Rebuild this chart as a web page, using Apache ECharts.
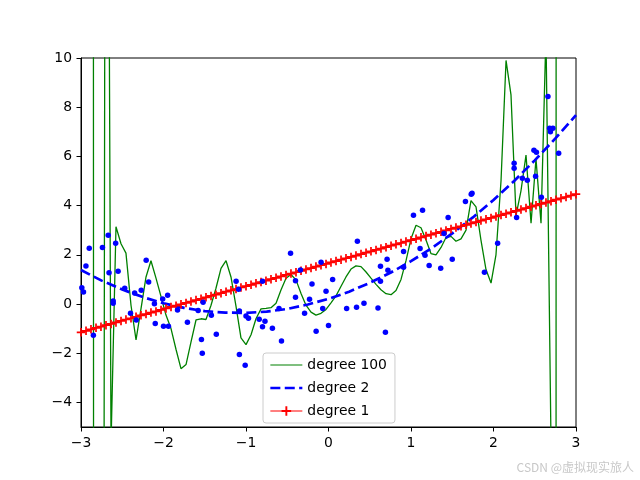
<!DOCTYPE html>
<html>
<head>
<meta charset="utf-8">
<script src="https://cdn.jsdelivr.net/npm/echarts@6/dist/echarts.min.js"></script>
<style>
  html, body { margin: 0; padding: 0; background: #fff; }
  #chart { width: 640px; height: 480px; }
</style>
</head>
<body>
<div id="chart"></div>
<script>
// sample points of the fitted curves (100 points from -3 to 3)
const xGrid = [
  -3, -2.939, -2.879, -2.818, -2.758, -2.697, -2.636, -2.576, -2.515, -2.455,
  -2.394, -2.333, -2.273, -2.212, -2.152, -2.091, -2.030, -1.970, -1.909, -1.848,
  -1.788, -1.727, -1.667, -1.606, -1.545, -1.485, -1.424, -1.364, -1.303, -1.242,
  -1.182, -1.121, -1.061, -1.000, -0.939, -0.879, -0.818, -0.758, -0.697, -0.636,
  -0.576, -0.515, -0.455, -0.394, -0.333, -0.273, -0.212, -0.152, -0.091, -0.030,
  0.030, 0.091, 0.152, 0.212, 0.273, 0.333, 0.394, 0.455, 0.515, 0.576,
  0.636, 0.697, 0.758, 0.818, 0.879, 0.939, 1.000, 1.061, 1.121, 1.182,
  1.242, 1.303, 1.364, 1.424, 1.485, 1.545, 1.606, 1.667, 1.727, 1.788,
  1.848, 1.909, 1.970, 2.030, 2.091, 2.152, 2.212, 2.273, 2.333, 2.394,
  2.455, 2.515, 2.576, 2.636, 2.697, 2.758, 2.818, 2.879, 2.939, 3
];

// degree 100 fit (edges shoot far out of view)
const deg100Y = [
  80, 200, 380, -380, -85, 43, -5.7, 3.14, 2.45, 2.07,
  -0.05, -1.46, -0.2, 1.1, 1.76, 1.05, 0.3, -0.45, -1.0, -1.85,
  -2.63, -2.46, -1.55, -0.65, -0.6, -0.63, -0.05, 0.64, 1.45, 1.76,
  1.1, -0.1, -1.38, -1.65, -1.25, -0.6, -0.2, -0.18, -0.15, 0.03,
  0.57, 1.05, 1.2, 0.98, 0.43, -0.05, -0.33, -0.45, -0.38, -0.22,
  0.05, 0.33, 0.72, 1.1, 1.42, 1.55, 1.52, 1.3, 1.05, 0.8,
  0.58, 0.42, 0.38, 0.55, 1.0, 1.75, 2.65, 3.2, 3.1, 2.6,
  2.05, 2.0, 2.3, 2.7, 2.75, 2.55, 2.65, 3.0, 4.2, 3.95,
  2.6, 1.4, 0.85, 2.0, 5.0, 9.9, 8.5, 3.6, 4.6, 6.05,
  3.28, 5.9, 3.28, 11, -5.6, -20, 2000, 3000, 1500, 500
];

// degree 1 fit
const deg1Y = [
  -1.15, -1.09, -1.03, -0.97, -0.92, -0.86, -0.81, -0.75, -0.69, -0.63,
  -0.58, -0.52, -0.46, -0.41, -0.35, -0.30, -0.24, -0.18, -0.12, -0.07,
  -0.01, 0.045, 0.10, 0.16, 0.21, 0.27, 0.33, 0.38, 0.44, 0.50,
  0.555, 0.61, 0.67, 0.725, 0.78, 0.84, 0.895, 0.95, 1.01, 1.065,
  1.12, 1.18, 1.235, 1.29, 1.35, 1.405, 1.46, 1.52, 1.575, 1.63,
  1.69, 1.745, 1.80, 1.86, 1.915, 1.97, 2.03, 2.085, 2.14, 2.20,
  2.255, 2.31, 2.37, 2.425, 2.48, 2.54, 2.595, 2.65, 2.71, 2.765,
  2.82, 2.88, 2.935, 2.99, 3.05, 3.105, 3.16, 3.22, 3.275, 3.33,
  3.39, 3.445, 3.50, 3.56, 3.615, 3.67, 3.73, 3.785, 3.84, 3.90,
  3.955, 4.01, 4.07, 4.125, 4.18, 4.24, 4.295, 4.35, 4.41, 4.465
];

// degree 2 fit (smooth, fewer samples)
const deg2X = [-3, -2.75, -2.5, -2.25, -2, -1.75, -1.5, -1.25, -1, -0.75, -0.5, -0.25, 0,
  0.25, 0.5, 0.75, 1, 1.25, 1.5, 1.75, 2, 2.25, 2.5, 2.75, 3];
const deg2Y = [1.38, 0.95, 0.59, 0.28, 0.03, -0.16, -0.29, -0.35, -0.36, -0.31, -0.20, -0.02, 0.21,
  0.50, 0.86, 1.27, 1.74, 2.27, 2.87, 3.52, 4.23, 5.00, 5.84, 6.73, 7.68];

// training samples
const pointsX = [
  -2.99, -2.97, -2.94, -2.90, -2.85, -2.74, -2.67, -2.66, -2.61, -2.61,
  -2.58, -2.55, -2.47, -2.40, -2.35, -2.33, -2.27, -2.21, -2.18, -2.11,
  -2.10, -2.01, -2.00, -1.95, -1.94, -1.83, -1.71, -1.58, -1.54, -1.53,
  -1.52, -1.42, -1.36, -1.12, -1.09, -1.08, -1.08, -1.01, -1.00, -0.97,
  -0.84, -0.80, -0.80, -0.77, -0.68, -0.60, -0.57, -0.46, -0.40, -0.40,
  -0.34, -0.29, -0.23, -0.20, -0.15, -0.09, -0.07, -0.03, 0.00, 0.05,
  0.22, 0.34, 0.35, 0.43, 0.60, 0.63, 0.63, 0.69, 0.71, 0.72,
  0.91, 0.91, 1.03, 1.11, 1.14, 1.17, 1.22, 1.36, 1.40, 1.45,
  1.50, 1.66, 1.73, 1.74, 1.89, 2.05, 2.25, 2.25, 2.28, 2.35,
  2.41, 2.49, 2.51, 2.52, 2.58, 2.66, 2.68, 2.69, 2.72, 2.79
];
const pointsY = [
  0.66, 0.49, 1.54, 2.27, -1.27, 2.30, 2.79, 1.27, 0.12, 0.03,
  2.47, 1.33, 0.64, -0.38, 0.45, -0.65, 0.56, 1.78, 0.89, 0.01,
  -0.79, 0.20, -0.90, 0.36, -0.90, -0.24, -0.74, -0.26, -1.44, -2.00,
  0.07, -0.46, -1.23, 0.92, 0.60, -0.28, -2.05, -2.49, -0.49, -0.58,
  -0.62, -0.92, 0.92, -0.70, -0.99, -0.18, -1.50, 2.06, 0.95, 0.27,
  1.38, -0.38, 0.19, 0.81, -1.11, 1.70, -0.18, 0.52, -0.87, 1.00,
  -0.18, -0.13, 2.55, 0.03, -0.16, 1.53, 0.92, -1.15, 1.82, 1.37,
  2.13, 1.49, 3.61, 2.26, 3.81, 1.98, 1.57, 1.45, 2.87, 3.52,
  1.82, 4.17, 4.46, 4.50, 1.29, 2.47, 5.72, 5.52, 3.52, 5.11,
  5.03, 6.25, 5.19, 6.17, 4.34, 8.44, 7.14, 7.00, 7.14, 6.13
];

const yTicks = [-4, -2, 0, 2, 4, 6, 8, 10];

const pair = (xs, ys) => xs.map((x, i) => [x, ys[i]]);
const minus = v => String(v).replace('-', '\u2212');

const chart = echarts.init(document.getElementById('chart'));

const font = 'DejaVu Sans';
const plusPath = 'path://M4,0h2v4h4v2h-4v4h-2v-4h-4v-2h4z';

const option = {
    animation: false,
    backgroundColor: '#fff',
    textStyle: { fontFamily: font },
    grid: {
        left: 81, right: 64, top: 58, bottom: 53,
        show: true, borderColor: '#000', borderWidth: 1,
        backgroundColor: 'transparent'
    },
    xAxis: {
        type: 'value',
        min: -3, max: 3, interval: 1,
        axisLine: { onZero: false, lineStyle: { color: '#000', width: 1 } },
        axisTick: { inside: false, length: 4.5, lineStyle: { color: '#000' } },
        axisLabel: { color: '#000', fontSize: 13.9, margin: 9, formatter: minus, fontFamily: font },
        splitLine: { show: false }
    },
    yAxis: {
        type: 'value',
        min: -5, max: 10,
        axisLine: { show: true, onZero: false, lineStyle: { color: '#000', width: 1 } },
        axisTick: { show: true, length: 4.5, customValues: yTicks, lineStyle: { color: '#000' } },
        axisLabel: { color: '#000', fontSize: 13.9, margin: 9, customValues: yTicks, formatter: minus, fontFamily: font },
        splitLine: { show: false }
    },
    legend: {
        data: [
            { name: 'degree 100', itemStyle: { opacity: 0 }, lineStyle: { width: 1.2 } },
            { name: 'degree 2', itemStyle: { opacity: 0 }, lineStyle: { width: 2.7 } },
            { name: 'degree 1', lineStyle: { width: 1.2 } }
        ],
        orient: 'vertical',
        left: 263, top: 353,
        itemWidth: 32, itemHeight: 12, itemGap: 9,
        padding: [5, 8, 5, 6],
        backgroundColor: 'rgba(255,255,255,0.8)',
        borderColor: '#cccccc', borderWidth: 1, borderRadius: 3,
        textStyle: { fontSize: 13.9, color: '#000', fontFamily: font }
    },
    graphic: [{
        type: 'text',
        right: 6, top: 461,
        style: {
            text: 'CSDN @虚拟现实旅人',
            fill: '#c8c8c8',
            font: '12px "Noto Sans CJK SC"'
        }
    }],
    series: [
        {
            name: 'degree 100',
            type: 'line',
            data: pair(xGrid, deg100Y),
            symbol: 'none',
            clip: true,
            lineStyle: { color: '#008000', width: 1.3 },
            itemStyle: { color: '#008000' },
            z: 2
        },
        {
            name: 'degree 2',
            type: 'line',
            data: pair(deg2X, deg2Y),
            symbol: 'none',
            clip: true,
            lineStyle: { color: '#0000ff', width: 2.7, type: [10, 4.4] },
            itemStyle: { color: '#0000ff' },
            z: 3
        },
        {
            name: 'degree 1',
            type: 'line',
            data: pair(xGrid, deg1Y),
            symbol: plusPath,
            symbolSize: 8.5,
            showSymbol: true,
            clip: true,
            lineStyle: { color: '#ff0000', width: 1.3 },
            itemStyle: { color: '#ff0000' },
            z: 4
        },
        {
            name: 'samples',
            type: 'scatter',
            data: pair(pointsX, pointsY),
            symbolSize: 5.5,
            itemStyle: { color: '#0000ff', opacity: 1 },
            z: 5
        }
    ]
};

chart.setOption(option);
</script>
</body>
</html>
